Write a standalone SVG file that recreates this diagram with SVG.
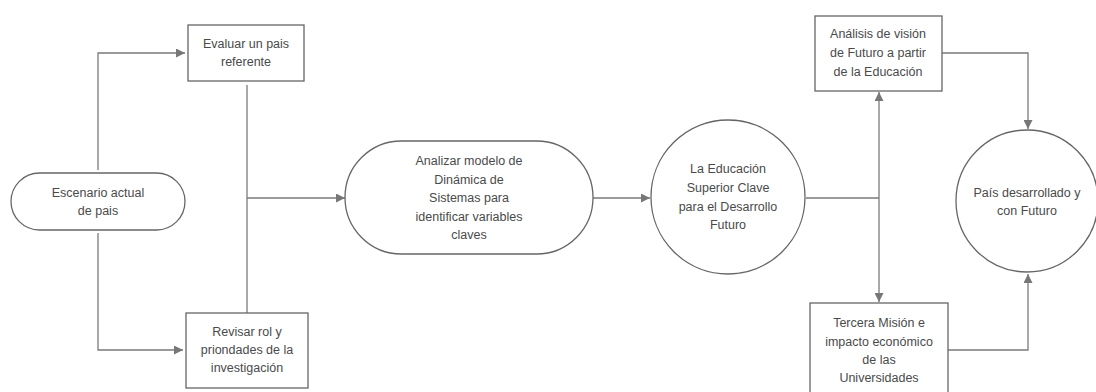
<svg xmlns="http://www.w3.org/2000/svg" width="1096" height="392" viewBox="0 0 1096 392">
<style>
.n{fill:#fff;stroke:#666;stroke-width:1.3}
.c{fill:none;stroke:#7a7a7a;stroke-width:1.3}
text{font-family:"Liberation Sans",Arial,sans-serif;font-size:12.5px;fill:#4a4a4a;text-anchor:middle}
</style>
<defs>
<marker id="ah" viewBox="0 0 10 10" refX="10" refY="5" markerWidth="9" markerHeight="9" markerUnits="userSpaceOnUse" orient="auto">
<path d="M0,0 L10,5 L0,10 z" fill="#777"/>
</marker>
</defs>
<rect width="1096" height="392" fill="#fff"/>
<g id="connectors">
<path class="c" d="M98,170 V53 H185" marker-end="url(#ah)"/>
<path class="c" d="M98,233 V350 H183" marker-end="url(#ah)"/>
<path class="c" d="M247,85 V313"/>
<path class="c" d="M247,198 H345" marker-end="url(#ah)"/>
<path class="c" d="M593,198 H650" marker-end="url(#ah)"/>
<path class="c" d="M806,198 H879"/>
<path class="c" d="M879,198 V92" marker-end="url(#ah)"/>
<path class="c" d="M879,198 V302" marker-end="url(#ah)"/>
<path class="c" d="M942,53 H1028 V129" marker-end="url(#ah)"/>
<path class="c" d="M948,350 H1028 V274" marker-end="url(#ah)"/>
</g>
<g id="escenario">
<rect class="n" x="11" y="173" width="174" height="57" rx="28.5"/>
<text x="98" y="197">Escenario actual</text>
<text x="98" y="215">de pais</text>
</g>
<g id="evaluar">
<rect class="n" x="188" y="25" width="116" height="56"/>
<text x="246" y="48">Evaluar un pais</text>
<text x="246" y="66">referente</text>
</g>
<g id="revisar">
<rect class="n" x="186" y="313" width="122" height="75"/>
<text x="247" y="336">Revisar rol y</text>
<text x="247" y="354">priondades de la</text>
<text x="247" y="372">investigación</text>
</g>
<g id="analizar">
<rect class="n" x="345" y="141" width="248" height="113" rx="56.5"/>
<text x="469" y="165">Analizar modelo de</text>
<text x="469" y="184">Dinámica de</text>
<text x="469" y="202">Sistemas para</text>
<text x="469" y="221">identificar variables</text>
<text x="469" y="239">claves</text>
</g>
<g id="educacion">
<circle class="n" cx="728" cy="197" r="77"/>
<text x="728" y="173">La Educación</text>
<text x="728" y="192">Superior Clave</text>
<text x="728" y="211">para el Desarrollo</text>
<text x="728" y="229">Futuro</text>
</g>
<g id="analisis">
<rect class="n" x="815" y="16" width="127" height="75"/>
<text x="878" y="38">Análisis de visión</text>
<text x="878" y="57">de Futuro a partir</text>
<text x="878" y="76">de la Educación</text>
</g>
<g id="tercera">
<rect class="n" x="810" y="303" width="138" height="95"/>
<text x="879" y="327">Tercera Misión e</text>
<text x="879" y="346">impacto económico</text>
<text x="879" y="364">de las</text>
<text x="879" y="382">Universidades</text>
</g>
<g id="pais">
<circle class="n" cx="1027" cy="201" r="71"/>
<text x="1027" y="197">País desarrollado y</text>
<text x="1027" y="215">con Futuro</text>
</g>
</svg>
